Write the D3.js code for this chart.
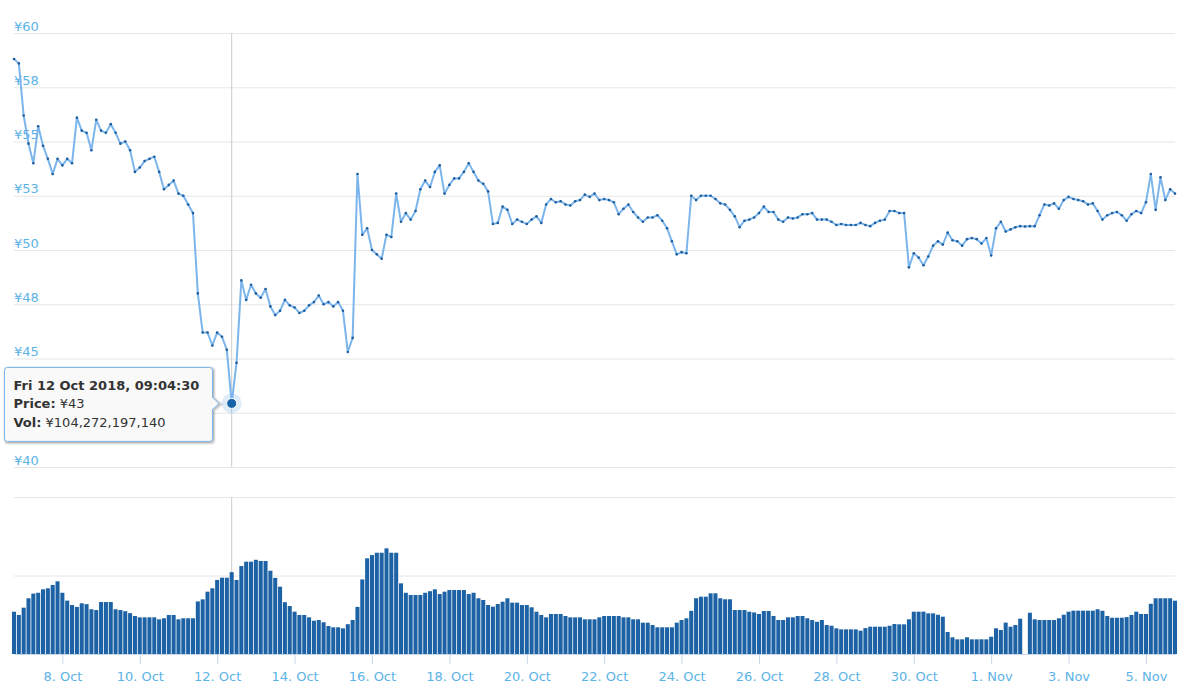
<!DOCTYPE html>
<html>
<head>
<meta charset="utf-8">
<script src="https://cdn.jsdelivr.net/npm/d3@7"></script>
<style>
  html, body { margin: 0; padding: 0; background: #ffffff; }
  svg { display: block; font-family: "DejaVu Sans", Verdana, sans-serif; }
</style>
</head>
<body>
<svg id="chart" width="1200" height="698"></svg>
<script>
// ---------------- data ----------------
const startTime = "2018-10-06T18:00:00";   // first sample
const stepHours = 3;                        // sampling interval

const prices = [
  58.8, 58.6, 56.2, 54.9, 54.0, 55.7, 54.8, 54.2, 53.5, 54.2,
  53.9, 54.2, 54.0, 56.1, 55.5, 55.4, 54.6, 56.0, 55.5, 55.4,
  55.8, 55.4, 54.9, 55.0, 54.6, 53.6, 53.8, 54.1, 54.2, 54.3,
  53.6, 52.8, 53.0, 53.2, 52.6, 52.5, 52.1, 51.7, 48.0, 46.2,
  46.2, 45.6, 46.2, 46.0, 45.4, 42.93, 44.8, 48.6, 47.7, 48.4,
  48.0, 47.8, 48.2, 47.4, 47.0, 47.2, 47.7, 47.45, 47.35, 47.1,
  47.2, 47.45, 47.6, 47.9, 47.5, 47.6, 47.4, 47.6, 47.2, 45.3,
  45.95, 53.5, 50.7, 51.0, 50.0, 49.8, 49.6, 50.7, 50.6, 52.6,
  51.3, 51.7, 51.4, 51.8, 52.8, 53.2, 52.9, 53.6, 53.9, 52.6,
  53.0, 53.3, 53.3, 53.6, 54.0, 53.6, 53.2, 53.05, 52.7, 51.2,
  51.25, 52.0, 51.85, 51.2, 51.4, 51.3, 51.2, 51.4, 51.55, 51.25,
  52.1, 52.35, 52.2, 52.25, 52.1, 52.05, 52.25, 52.3, 52.55, 52.45,
  52.6, 52.3, 52.35, 52.3, 52.2, 51.65, 51.9, 52.1, 51.75, 51.5,
  51.3, 51.5, 51.5, 51.6, 51.35, 51.0, 50.4, 49.8, 49.9, 49.85,
  52.5, 52.3, 52.5, 52.5, 52.5, 52.35, 52.15, 52.1, 51.85, 51.55,
  51.05, 51.35, 51.4, 51.5, 51.7, 52.0, 51.75, 51.75, 51.4, 51.3,
  51.5, 51.45, 51.5, 51.65, 51.65, 51.7, 51.4, 51.4, 51.4, 51.3,
  51.15, 51.2, 51.15, 51.15, 51.15, 51.25, 51.15, 51.1, 51.25, 51.35,
  51.4, 51.8, 51.8, 51.7, 51.7, 49.2, 49.85, 49.65, 49.3, 49.7,
  50.2, 50.4, 50.25, 50.8, 50.45, 50.4, 50.2, 50.5, 50.55, 50.5,
  50.3, 50.55, 49.75, 51.0, 51.3, 50.85, 50.95, 51.05, 51.1, 51.08,
  51.1, 51.1, 51.6, 52.1, 52.05, 52.15, 51.9, 52.3, 52.45, 52.35,
  52.3, 52.25, 52.1, 52.15, 51.8, 51.4, 51.6, 51.7, 51.75, 51.6,
  51.35, 51.65, 51.8, 51.7, 52.2, 53.5, 51.85, 53.35, 52.3, 52.8,
  52.6
];

// volume in billions of yen (null = no data)
const volumes = [
  53.9, 49.7, 59, 71, 77, 78, 82.4, 83.7, 88, 92.6,
  78, 68, 62.4, 60, 64.6, 63.5, 57, 56, 66.2, 66.2,
  66.2, 57, 56, 54.5, 52, 48.4, 46.7, 46.7, 46.7, 46.7,
  44.2, 45.5, 49.7, 49.7, 44.2, 45.5, 45.5, 45.5, 67, 69.6,
  79.4, 83.7, 94.3, 97.2, 97.2, 104.27219714, 94.3, 112, 117.6, 117.6,
  120, 118.5, 118.5, 106.1, 97, 85.7, 66, 61.1, 53.9, 49.7,
  49.7, 46.7, 42.4, 43.3, 40.4, 35.7, 34, 34, 32.7, 38,
  43.3, 60, 95, 121.9, 126, 129, 129, 134.6, 129, 129,
  90, 78, 75.2, 75.2, 75.2, 78, 80, 82.4, 76.4, 79.4,
  81.5, 81.5, 81.5, 81.5, 76.4, 78, 71, 68.8, 62.4, 60.3,
  63.7, 66.6, 71, 65.4, 65.4, 62.4, 62.4, 59.5, 53.9, 49.7,
  46.7, 51, 51, 51, 48.4, 46.7, 46.7, 46.7, 44.2, 44.2,
  44.2, 46.7, 48.4, 48.4, 48.4, 48.4, 46.7, 46.7, 44.2, 44.2,
  39.9, 39.9, 36.9, 34, 34, 34, 34, 39.9, 43.3, 45.5,
  55, 71, 73, 73, 77.3, 77.3, 71, 69.7, 69.7, 56,
  56, 56, 53.9, 52.9, 51, 54.8, 54.8, 48.4, 43.3, 43.3,
  46.7, 46.7, 48.4, 48.4, 45.5, 43.3, 41.1, 43.3, 36.9, 36,
  32.7, 31.4, 31.4, 31.4, 31.4, 29.7, 33, 34.8, 34.8, 34.8,
  34.8, 36, 38.2, 37.8, 37.8, 44.2, 53.9, 53.9, 53.9, 51.8,
  51.8, 50, 47.5, 28, 21.3, 18.7, 18.7, 21.3, 18.7, 18.7,
  18.7, 18.7, 22, 32.7, 30.6, 40, 34.8, 36.9, 45, null,
  52.6, 44.2, 43.3, 43.3, 43.3, 43.3, 45.5, 50, 53.9, 55.2,
  55.2, 55.2, 55.2, 55.2, 57, 55, 48.4, 46.2, 46.2, 46.2,
  47, 49.7, 53.9, 51, 51, 64, 71, 71, 71, 71,
  67.9
];

const priceTicks = [40, 42.5, 45, 47.5, 50, 52.5, 55, 57.5, 60];
const volumeTicks = [100, 200];
const xTickDays = ["2018-10-08", "2018-10-10", "2018-10-12", "2018-10-14", "2018-10-16",
                   "2018-10-18", "2018-10-20", "2018-10-22", "2018-10-24", "2018-10-26",
                   "2018-10-28", "2018-10-30", "2018-11-01", "2018-11-03", "2018-11-05"];
const tooltipTime = "2018-10-12T09:04:30";

// ---------------- build ----------------
const parseISO = d3.timeParse("%Y-%m-%dT%H:%M:%S");
const parseDay = d3.timeParse("%Y-%m-%d");
const t0 = parseISO(startTime);
const data = prices.map((p, i) => ({
  date: d3.timeHour.offset(t0, i * stepHours),
  price: p,
  vol: volumes[i]
}));

const svg = d3.select("#chart");
const left = 14, right = 1175;
const x = d3.scaleTime().domain([data[0].date, data[data.length - 1].date]).range([left, right]);
const yP = d3.scaleLinear().domain([40, 60]).range([467, 33]);
const yV = d3.scaleLinear().domain([0, 200]).range([654, 497]);

const labelColor = "#5cb3e6";

// tooltip point
const tt = parseISO(tooltipTime);
const ti = d3.leastIndex(data, d => Math.abs(d.date - tt));
const tp = data[ti];
const px = x(tp.date), py = yP(tp.price);
const bx0 = 4.5, bx1 = px - 19.2, by0 = py - 36, by1 = py + 38, r = 3, tip = px - 12.5;

// price grid + labels (labels hidden under the tooltip are not drawn)
const gP = svg.append("g").attr("transform", `translate(${left},0)`)
  .call(d3.axisRight(yP).tickValues(priceTicks).tickSize(right - left)
    .tickFormat(v => "¥" + Math.round(v)));
gP.select(".domain").remove();
gP.selectAll(".tick line").attr("stroke", "#e6e6e6");
gP.selectAll(".tick text")
  .attr("x", 0).attr("dy", "-3").attr("text-anchor", "start")
  .attr("fill", labelColor).attr("font-size", 13)
  .attr("font-family", "DejaVu Sans, sans-serif");
gP.selectAll(".tick").filter(v => {
  const yy = yP(v);
  return yy - 14 < by1 && yy > by0;
}).select("text").remove();

// volume grid
const gV = svg.append("g").attr("transform", `translate(${left},0)`)
  .call(d3.axisRight(yV).tickValues(volumeTicks).tickSize(right - left).tickFormat(""));
gV.select(".domain").remove();
gV.selectAll(".tick line").attr("stroke", "#e6e6e6");

// crosshairs
svg.append("line").attr("x1", px).attr("x2", px).attr("y1", yP(60)).attr("y2", yP(40))
  .attr("stroke", "#cccccc").attr("stroke-width", 1);
svg.append("line").attr("x1", px).attr("x2", px).attr("y1", yV(200)).attr("y2", yV(0))
  .attr("stroke", "#cccccc").attr("stroke-width", 1);

// volume bars
const step = x(data[1].date) - x(data[0].date);
svg.append("g").selectAll("rect")
  .data(data.filter(d => d.vol != null))
  .join("rect")
  .attr("x", d => x(d.date) - step / 2 + 0.4)
  .attr("width", step - 0.8)
  .attr("y", d => yV(d.vol))
  .attr("height", d => yV(0) - yV(d.vol))
  .attr("fill", "#1c62a5");

// x axis
const gX = svg.append("g").attr("transform", `translate(0,${yV(0)})`)
  .call(d3.axisBottom(x).tickValues(xTickDays.map(parseDay))
    .tickFormat(d3.timeFormat("%-d. %b")).tickSize(10).tickSizeOuter(0).tickPadding(8));
gX.select(".domain").attr("stroke", "#ccd6eb");
gX.selectAll(".tick line").attr("stroke", "#ccd6eb");
gX.selectAll(".tick text").attr("fill", labelColor).attr("font-size", 13)
  .attr("font-family", "DejaVu Sans, sans-serif");

// price line
svg.append("path").datum(data)
  .attr("d", d3.line().x(d => x(d.date)).y(d => yP(d.price)))
  .attr("fill", "none").attr("stroke", "#7cb5ec").attr("stroke-width", 2)
  .attr("stroke-linejoin", "round");
svg.append("g").selectAll("circle").data(data).join("circle")
  .attr("cx", d => x(d.date)).attr("cy", d => yP(d.price)).attr("r", 1.3)
  .attr("fill", "#1f5e9c");

// hover marker
svg.append("circle").attr("cx", px).attr("cy", py).attr("r", 10)
  .attr("fill", "#7cb5ec").attr("opacity", 0.25);
svg.append("circle").attr("cx", px).attr("cy", py).attr("r", 5)
  .attr("fill", "#1563a8").attr("stroke", "#ffffff").attr("stroke-width", 1);

// tooltip
const boxPath = [
  `M${bx0 + r},${by0}`, `L${bx1 - r},${by0}`, `Q${bx1},${by0} ${bx1},${by0 + r}`,
  `L${bx1},${py - 6}`, `L${tip},${py}`, `L${bx1},${py + 6}`,
  `L${bx1},${by1 - r}`, `Q${bx1},${by1} ${bx1 - r},${by1}`,
  `L${bx0 + r},${by1}`, `Q${bx0},${by1} ${bx0},${by1 - r}`,
  `L${bx0},${by0 + r}`, `Q${bx0},${by0} ${bx0 + r},${by0}`, "Z"
].join(" ");
const tg = svg.append("g");
[[5, 0.05], [3, 0.1], [1, 0.15]].forEach(([w, o]) => {
  tg.append("path").attr("d", boxPath).attr("transform", "translate(1,1)")
    .attr("fill", "none").attr("stroke", "#000").attr("stroke-opacity", o).attr("stroke-width", w);
});
tg.append("path").attr("d", boxPath)
  .attr("fill", "#f9f9f9").attr("stroke", "#7cb5ec").attr("stroke-width", 1);

const fmtTip = d3.timeFormat("%a %d %b %Y, %H:%M:%S");
const tx = bx0 + 9;
const tText = tg.append("text").attr("font-size", 13).attr("fill", "#333333")
  .attr("font-family", "DejaVu Sans, sans-serif");
tText.append("tspan").attr("x", tx).attr("y", py - 13.3).attr("font-weight", "bold").text(fmtTip(tt));
tText.append("tspan").attr("x", tx).attr("y", py + 4.7).attr("font-weight", "bold").text("Price:");
tText.append("tspan").text(" ¥" + d3.format(".0f")(tp.price));
tText.append("tspan").attr("x", tx).attr("y", py + 23.4).attr("font-weight", "bold").text("Vol:");
tText.append("tspan").text(" ¥" + d3.format(",")(Math.round(tp.vol * 1e9)));
</script>
</body>
</html>
